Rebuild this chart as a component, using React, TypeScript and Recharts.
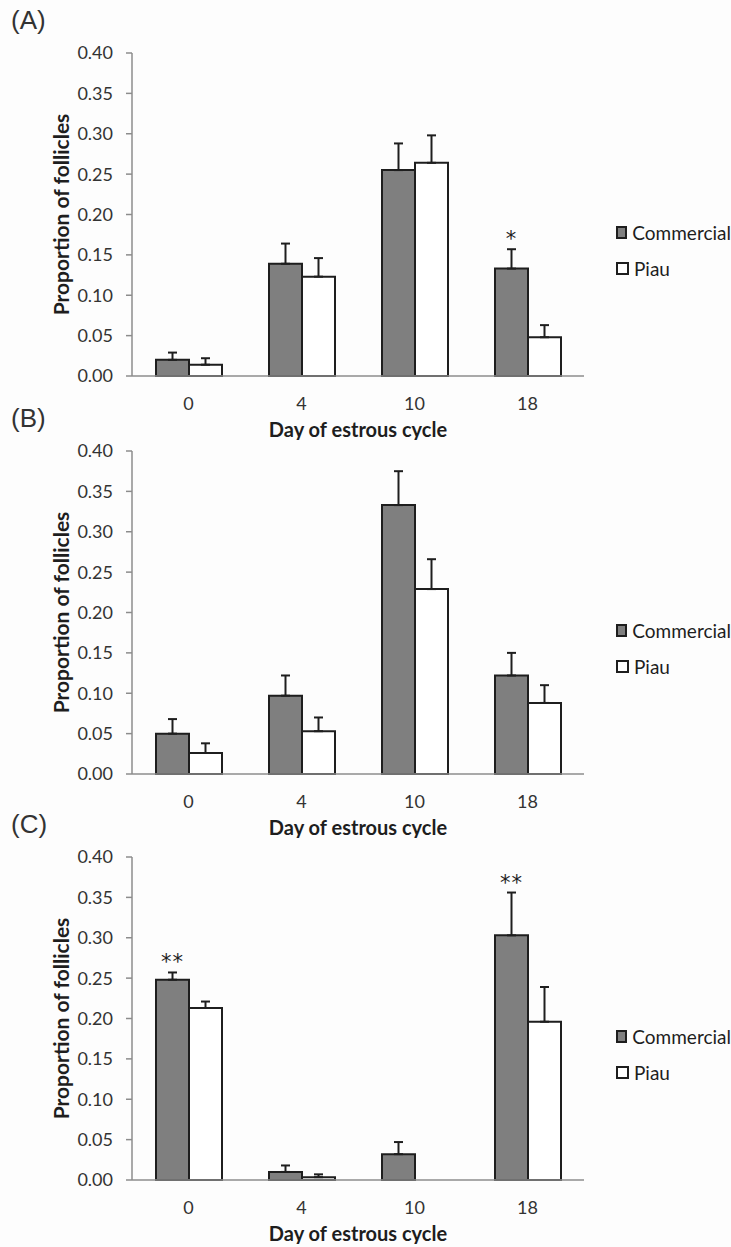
import { BarChart, Bar, XAxis, YAxis, ErrorBar, LabelList, Legend, Label } from "recharts";

// Categories and axis ticks
const days = ["0", "4", "10", "18"];
const yTicks = [0, 0.05, 0.1, 0.15, 0.2, 0.25, 0.3, 0.35, 0.4];

// Panel (A)
const commercialA = [0.02, 0.139, 0.255, 0.133];
const commercialErrA = [0.009, 0.025, 0.033, 0.024];
const piauA = [0.014, 0.123, 0.264, 0.048];
const piauErrA = [0.008, 0.023, 0.034, 0.015];
const sigA = ["", "", "", "*"];

// Panel (B)
const commercialB = [0.05, 0.097, 0.333, 0.122];
const commercialErrB = [0.018, 0.025, 0.042, 0.028];
const piauB = [0.026, 0.053, 0.229, 0.088];
const piauErrB = [0.012, 0.017, 0.037, 0.022];
const sigB = ["", "", "", ""];

// Panel (C)
const commercialC = [0.248, 0.01, 0.032, 0.303];
const commercialErrC = [0.009, 0.008, 0.015, 0.053];
const piauC = [0.213, 0.0035, 0, 0.196];
const piauErrC: (number | null)[] = [0.008, 0.0035, null, 0.043];
const sigC = ["**", "", "", "**"];

const AXIS = "#8c8c8c";
const INK = "#1e1e1e";
const TEXT = "#333";
const GRAY_FILL = "#7f7f7f";

function buildRows(
  c: number[],
  ce: (number | null)[],
  p: number[],
  pe: (number | null)[],
  sig: string[]
) {
  return days.map((day, i) => ({
    day,
    commercial: c[i],
    commercialErr: ce[i] == null ? null : [0, ce[i]],
    piau: p[i],
    piauErr: pe[i] == null ? null : [0, pe[i]],
    errTop: ce[i] ?? 0,
    sig: sig[i],
  }));
}

const rowsA = buildRows(commercialA, commercialErrA, piauA, piauErrA, sigA);
const rowsB = buildRows(commercialB, commercialErrB, piauB, piauErrB, sigB);
const rowsC = buildRows(commercialC, commercialErrC, piauC, piauErrC, sigC);

function XTitle(props: any) {
  const vb = props.viewBox;
  return (
    <text
      x={vb.x + vb.width / 2}
      y={vb.y + 61}
      textAnchor="middle"
      fontFamily="Lato"
      fontWeight={700}
      fontSize={20}
      fill={INK}
    >
      Day of estrous cycle
    </text>
  );
}

function YTitle(props: any) {
  const vb = props.viewBox;
  const cy = vb.y + vb.height / 2;
  return (
    <text
      x={60}
      y={cy}
      transform={`rotate(-90 60 ${cy})`}
      textAnchor="middle"
      dominantBaseline="central"
      fontFamily="Lato"
      fontWeight={700}
      fontSize={21}
      fill={INK}
    >
      Proportion of follicles
    </text>
  );
}

function LegendContent(props: any) {
  const items = props.payload ?? [];
  return (
    <div style={{ fontFamily: "Lato", fontSize: 19, color: INK }}>
      {items.map((it: any) => (
        <div key={it.value} style={{ display: "flex", alignItems: "center", height: 36, whiteSpace: "nowrap" }}>
          <span
            style={{
              display: "inline-block",
              width: 9,
              height: 9,
              border: `2px solid ${INK}`,
              background: it.payload?.fill ?? it.color,
              marginRight: 5,
            }}
          />
          <span>{it.value}</span>
        </div>
      ))}
    </div>
  );
}

function Panel({ top, tag, rows }: { top: number; tag: string; rows: any[] }) {
  const sigContent = (p: any) => {
    const { x, y, width, height, index, value } = p;
    if (!value) return null;
    const row = rows[index];
    const pxPerUnit = height / row.commercial;
    const errY = y - row.errTop * pxPerUnit;
    return (
      <text
        x={x + width / 2}
        y={errY - 3}
        textAnchor="middle"
        fontFamily="DejaVu Sans"
        fontSize={21}
        letterSpacing={1}
        fill={INK}
      >
        {value}
      </text>
    );
  };

  return (
    <div style={{ position: "absolute", left: 0, top, width: 731, height: 440 }}>
      <div
        style={{
          position: "absolute",
          left: 11,
          top: 7,
          fontFamily: "Liberation Sans",
          fontSize: 26,
          lineHeight: "26px",
          color: TEXT,
        }}
      >
        {tag}
      </div>
      <BarChart
        width={731}
        height={440}
        data={rows}
        margin={{ top: 53, right: 32, bottom: 4, left: 52 }}
        barCategoryGap={24}
        barGap={0}
      >
        <XAxis
          dataKey="day"
          axisLine={{ stroke: AXIS, strokeWidth: 1.5 }}
          tickLine={false}
          tickMargin={15}
          height={60}
          tick={{ fontFamily: "Lato", fontSize: 18, fill: TEXT }}
        >
          <Label content={XTitle} />
        </XAxis>
        <YAxis
          width={80}
          domain={[0, 0.4]}
          ticks={yTicks}
          interval={0}
          tickFormatter={(v: number) => v.toFixed(2)}
          axisLine={{ stroke: AXIS, strokeWidth: 1.5 }}
          tickLine={{ stroke: AXIS, strokeWidth: 1.5 }}
          tickSize={6}
          tickMargin={13}
          tick={{ fontFamily: "Lato", fontSize: 18, fill: TEXT }}
        >
          <Label content={YTitle} />
        </YAxis>
        <Legend
          layout="vertical"
          align="right"
          verticalAlign="middle"
          wrapperStyle={{ left: 616, top: 214, width: 115 }}
          content={LegendContent}
        />
        <Bar
          dataKey="commercial"
          name="Commercial"
          fill={GRAY_FILL}
          stroke={INK}
          strokeWidth={2}
          isAnimationActive={false}
        >
          <ErrorBar
            dataKey="commercialErr"
            direction="y"
            width={4.5}
            stroke={INK}
            strokeWidth={2}
            isAnimationActive={false}
          />
          <LabelList dataKey="sig" content={sigContent} />
        </Bar>
        <Bar
          dataKey="piau"
          name="Piau"
          fill="#ffffff"
          stroke={INK}
          strokeWidth={2}
          isAnimationActive={false}
        >
          <ErrorBar
            dataKey="piauErr"
            direction="y"
            width={4.5}
            stroke={INK}
            strokeWidth={2}
            isAnimationActive={false}
          />
        </Bar>
      </BarChart>
    </div>
  );
}

export default function App() {
  return (
    <div
      style={{
        position: "absolute",
        left: 0,
        top: 0,
        width: 731,
        height: 1247,
        overflow: "hidden",
        background: "#fdfdfd",
      }}
    >
      <Panel top={0} tag="(A)" rows={rowsA} />
      <Panel top={398} tag="(B)" rows={rowsB} />
      <Panel top={804} tag="(C)" rows={rowsC} />
    </div>
  );
}
